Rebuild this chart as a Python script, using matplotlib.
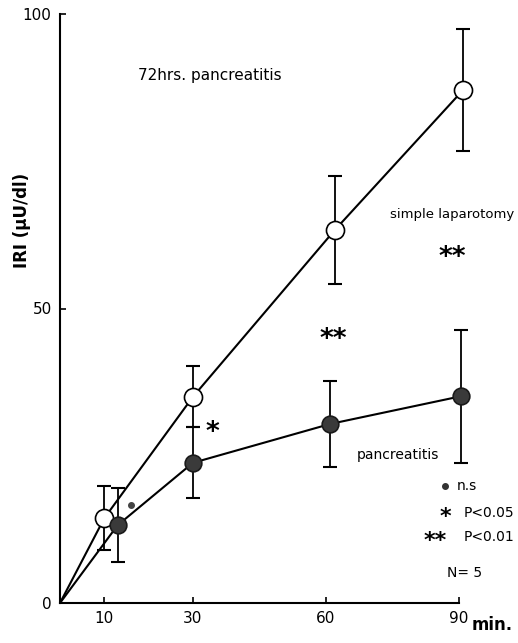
import matplotlib.pyplot as plt

# simple laparotomy (open circles)
lap_x = [10, 30, 62, 91]
lap_y = [14.4, 35.0, 63.3, 87.1]
lap_err = [5.4, 5.2, 9.2, 10.4]

# pancreatitis (filled circles)
pan_x = [13, 30, 61, 90.5]
pan_y = [13.2, 23.8, 30.4, 35.1]
pan_err = [6.3, 6.0, 7.3, 11.3]

xticks = [10, 30, 60, 90]
yticks = [0, 50, 100]

fig = plt.figure(figsize=(5.18, 6.43), dpi=100)
ax = fig.add_axes([60 / 518, 40 / 643, 458 / 518, 603 / 643])
ax.set_xlim(0, 458 / 4.43)
ax.set_ylim(0, 603 / 5.89)

ax.plot([0] + lap_x, [0] + lap_y, color='black', lw=1.5, zorder=2)
ax.plot([0] + pan_x, [0] + pan_y, color='black', lw=1.5, zorder=2)
ax.errorbar(lap_x, lap_y, yerr=lap_err, fmt='none', ecolor='black',
            elinewidth=1.3, capsize=5, capthick=1.5, zorder=1)
ax.errorbar(pan_x, pan_y, yerr=pan_err, fmt='none', ecolor='black',
            elinewidth=1.3, capsize=5, capthick=1.5, zorder=1)
ax.plot(lap_x, lap_y, 'o', ms=13, mfc='white', mec='black', mew=1.2, zorder=3)
ax.plot(pan_x, pan_y, 'o', ms=12, mfc='#3a3a3a', mec='#1a1a1a', mew=1.2, zorder=3)

for s in ['top', 'right']:
    ax.spines[s].set_visible(False)
ax.spines['left'].set_bounds(0, 100)
ax.spines['bottom'].set_bounds(0, 90)
ax.spines['left'].set_linewidth(1.5)
ax.spines['bottom'].set_linewidth(1.5)
ax.set_xticks(xticks)
ax.set_yticks(yticks)
ax.set_yticklabels(['0', '50', '100'])
ax.tick_params(direction='in', length=4, width=1.2, labelsize=11, pad=6)

ax.text(-8.6, 65, 'IRI (μU/dl)', rotation=90, ha='center', va='center',
        fontsize=12, fontweight='bold')
ax.text(97.5, -3.7, 'min.', ha='center', va='center', fontsize=12, fontweight='bold')
ax.text(33.9, 89.6, '72hrs. pancreatitis', ha='center', va='center', fontsize=11)
ax.text(88.5, 66.0, 'simple laparotomy', ha='center', va='center', fontsize=9.5)
ax.text(76.3, 25.1, 'pancreatitis', ha='center', va='center', fontsize=10)

# significance marks (asterisk glyph sits high, so shift down a little)
star = dict(ha='center', va='center', fontsize=19, fontweight='bold')
ax.text(88.5, 59.4 - 0.8, '**', **star)
ax.text(61.6, 45.5 - 0.8, '**', **star)
ax.text(34.3, 29.7 - 0.8, '*', **star)
ax.plot([16.0], [16.6], 'o', ms=4, color='#444444')

# key
small_star = dict(ha='center', va='center', fontsize=16, fontweight='bold')
ax.plot([86.9], [19.8], 'o', ms=4, color='#333333', clip_on=False)
ax.text(89.6, 19.8, 'n.s', ha='left', va='center', fontsize=10)
ax.text(86.9, 15.3 - 0.7, '*', **small_star)
ax.text(91.0, 15.3, 'P<0.05', ha='left', va='center', fontsize=10)
ax.text(84.8, 11.2 - 0.7, '**', **small_star)
ax.text(91.0, 11.2, 'P<0.01', ha='left', va='center', fontsize=10)
ax.text(91.4, 5.1, 'N= 5', ha='center', va='center', fontsize=10)

fig.savefig('out.png', dpi=100)
